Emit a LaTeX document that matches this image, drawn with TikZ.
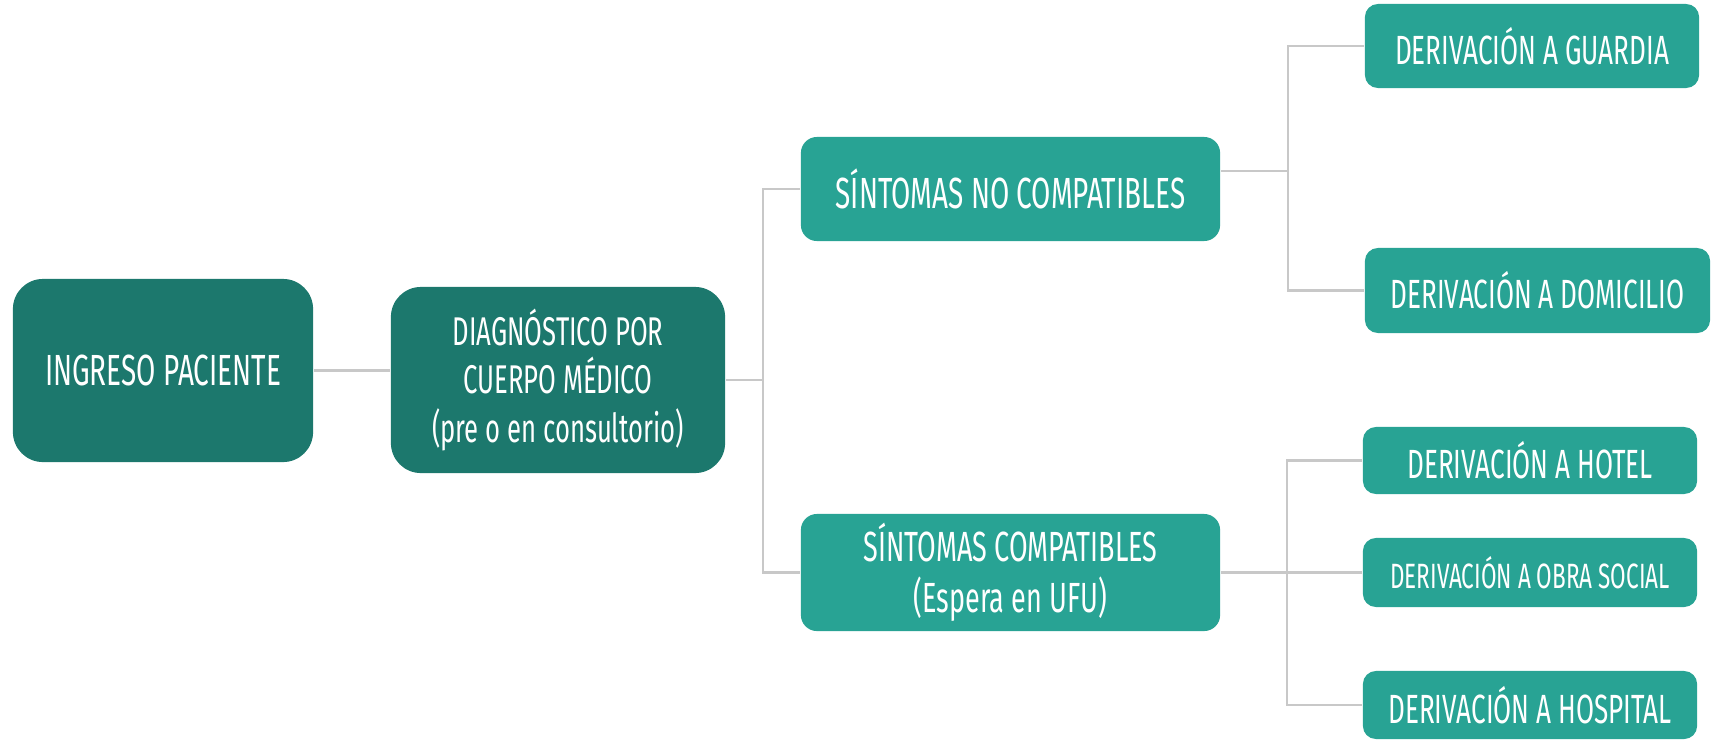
\documentclass[tikz,border=0pt]{standalone}
\usepackage{fontspec}
\setmainfont{Fira Sans}[FakeStretch=0.64]
\usepackage{tikz}
\usetikzlibrary{positioning}

\definecolor{tealdark}{HTML}{1C786D}
\definecolor{teallight}{HTML}{28A394}
\definecolor{linkgray}{HTML}{C8C8C8}

\tikzset{
  mainbox/.style={fill=tealdark, text=white, rounded corners=0.3cm, align=center, inner sep=0pt},
  branchbox/.style={fill=teallight, text=white, rounded corners=0.16cm, align=center,
                    inner sep=0pt, minimum width=4.19cm},
  leafbox/.style={fill=teallight, text=white, rounded corners=0.13cm, align=center,
                  inner sep=0pt, minimum width=3.34cm},
  link/.style={draw=linkgray, line width=0.6pt}
}

\begin{document}
\begin{tikzpicture}[x=0.01cm, y=-0.01cm]
            \useasboundingbox (0,0) rectangle (1712,739);

            % first level
            \node[mainbox, minimum width=3.00cm, minimum height=1.83cm,
                  font=\fontsize{12.4}{14}\selectfont] (ingreso) at (163,370.5) {INGRESO PACIENTE};
            \node[mainbox, minimum width=3.34cm, minimum height=1.86cm,
                  font=\fontsize{11.4}{13.7}\selectfont] (diagnostico) at (558,380)
                  {DIAGNÓSTICO POR\\CUERPO MÉDICO\\(pre o en consultorio)};

            % symptoms
            \node[branchbox, minimum height=1.04cm, font=\fontsize{12.4}{14}\selectfont]
                  (nocompat) at (1010.5,189) {SÍNTOMAS NO COMPATIBLES};
            \node[branchbox, minimum height=1.17cm, font=\fontsize{12}{14.5}\selectfont]
                  (compat) at (1010.5,572.5) {SÍNTOMAS COMPATIBLES\\(Espera en UFU)};

            % derivations
            \node[leafbox, minimum height=0.84cm, font=\fontsize{11.6}{14}\selectfont]
                  (guardia) at (1532,46) {DERIVACIÓN A GUARDIA};
            \node[leafbox, minimum width=3.45cm, minimum height=0.85cm, font=\fontsize{11.6}{14}\selectfont]
                  (domicilio) at (1537.5,290.5) {DERIVACIÓN A DOMICILIO};
            \node[leafbox, minimum height=0.67cm, font=\fontsize{11.6}{14}\selectfont]
                  (hotel) at (1530,460.5) {DERIVACIÓN A HOTEL};
            \node[leafbox, minimum height=0.69cm, font=\fontsize{10}{12}\selectfont]
                  (obrasocial) at (1530,572.5) {DERIVACIÓN A OBRA SOCIAL};
            \node[leafbox, minimum height=0.68cm, font=\fontsize{11.6}{14}\selectfont]
                  (hospital) at (1530,705) {DERIVACIÓN A HOSPITAL};

            % bus lines
            \coordinate (busA) at (763,0);
            \coordinate (busB) at (1288,0);
            \coordinate (busC) at (1287,0);

            \draw[link] (ingreso.east) -- (ingreso.east -| diagnostico.west);
            \draw[link] (diagnostico.east) -- (diagnostico.east -| busA);
            \draw[link] (nocompat.west) -- (nocompat.west -| busA) -- (compat.west -| busA) -- (compat.west);

            \draw[link] ([yshift=0.18cm]nocompat.east) coordinate (nocompatout) -- (nocompatout -| busB);
            \draw[link] (guardia.west) -- (guardia.west -| busB) -- (domicilio.west -| busB) -- (domicilio.west);

            \draw[link] (compat.east) -- (obrasocial.west);
            \draw[link] (hotel.west) -- (hotel.west -| busC) -- (hospital.west -| busC) -- (hospital.west);
        \end{tikzpicture}
\end{document}
